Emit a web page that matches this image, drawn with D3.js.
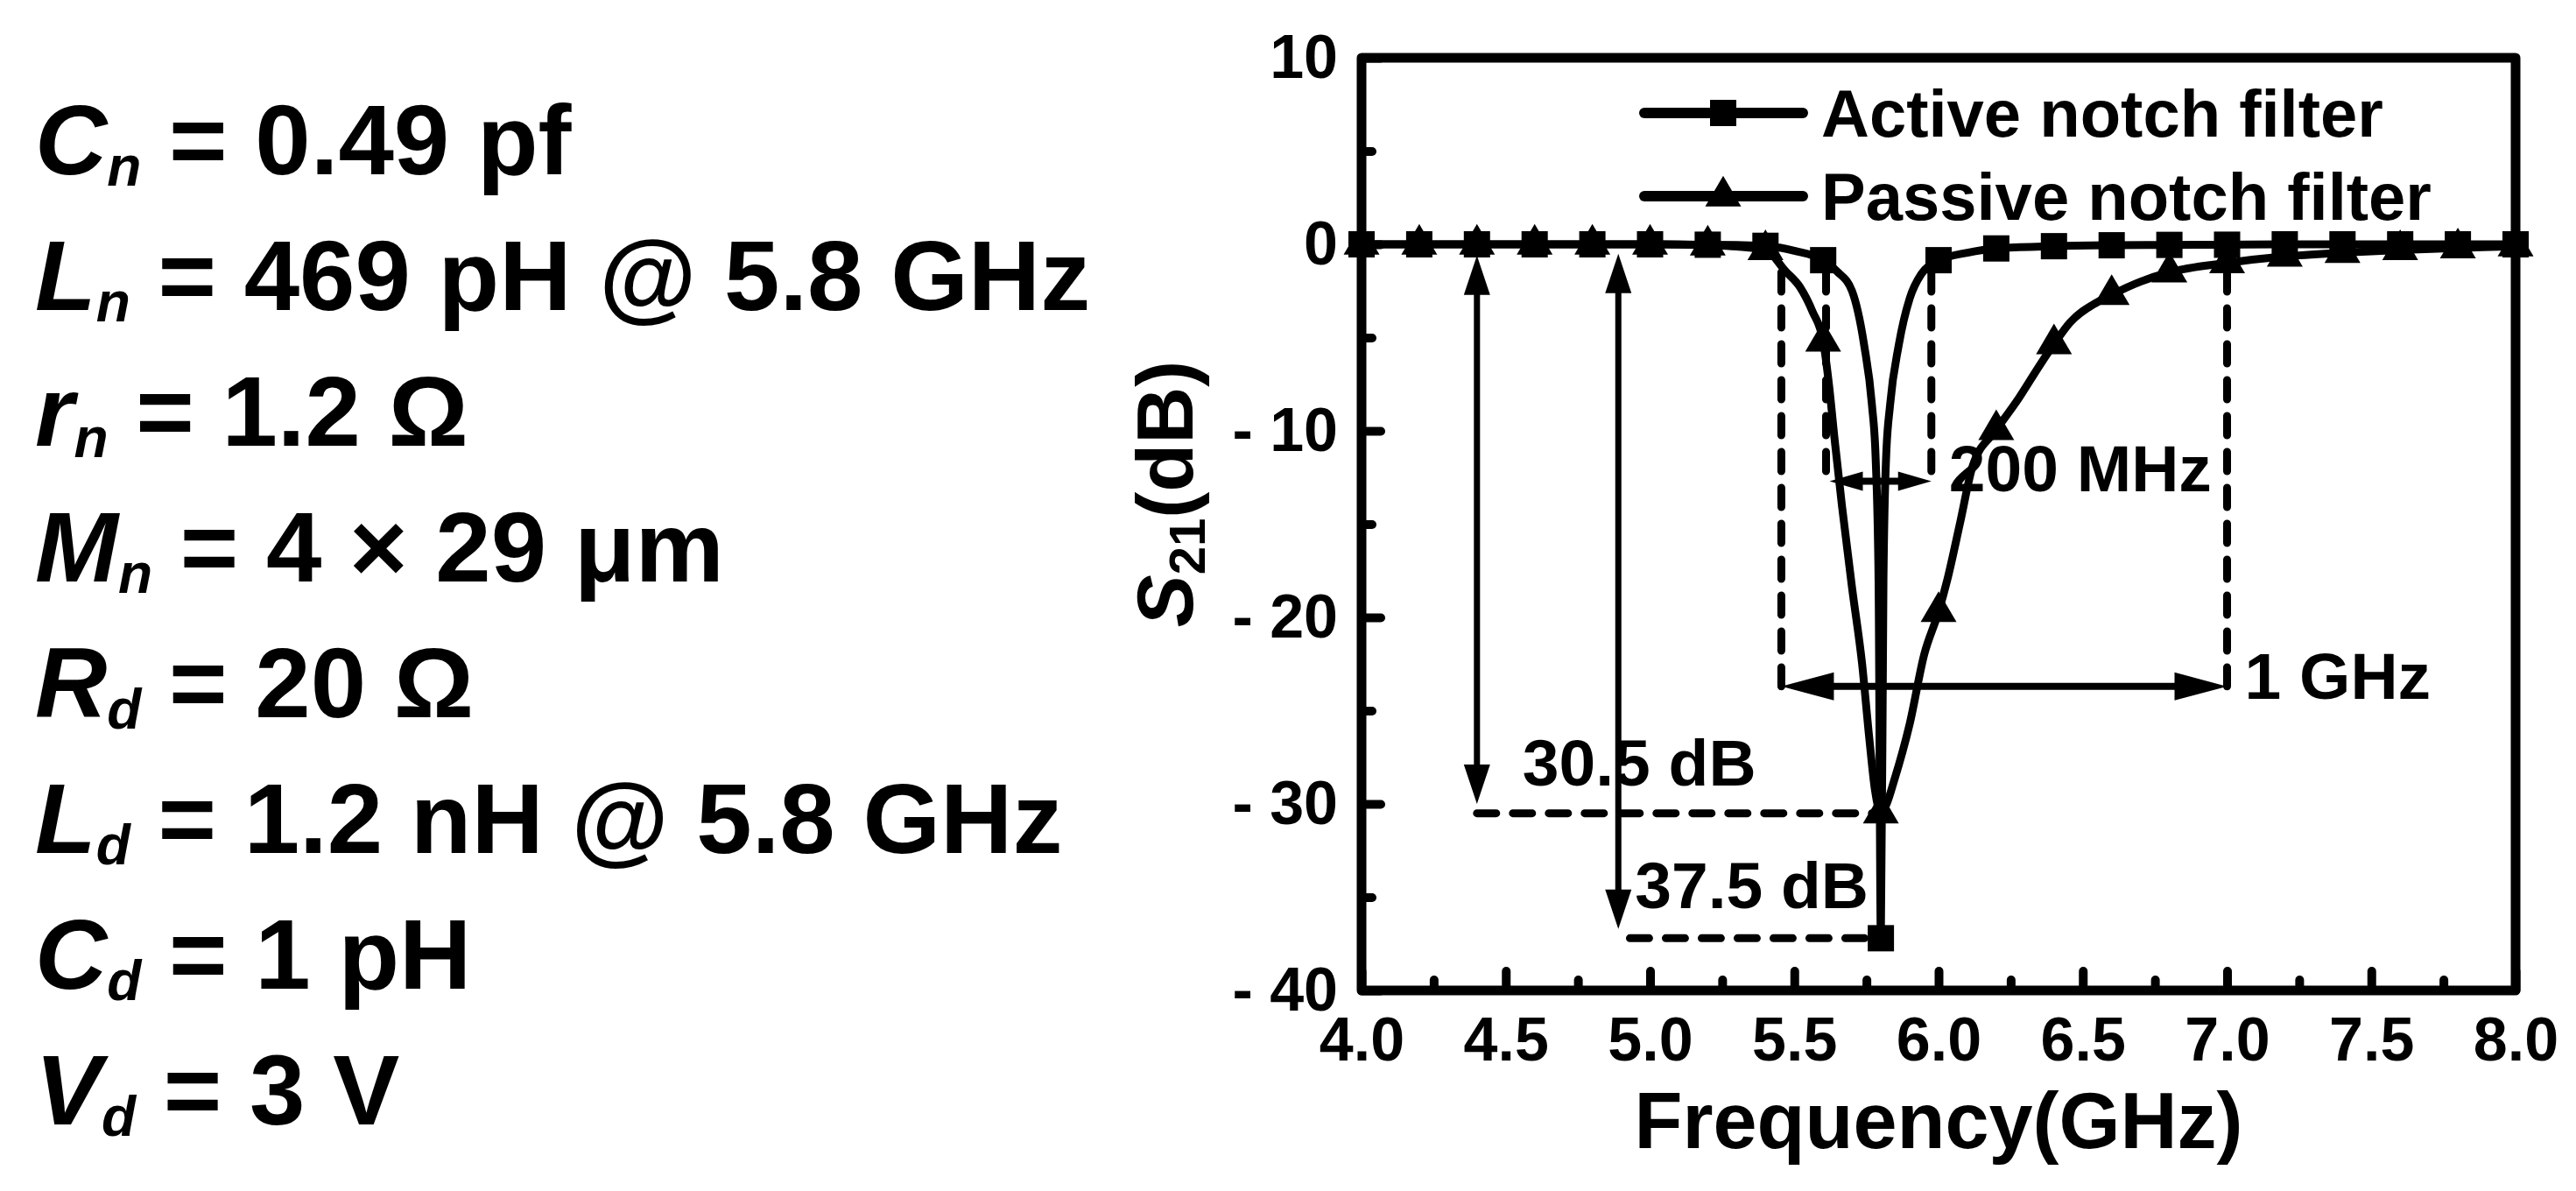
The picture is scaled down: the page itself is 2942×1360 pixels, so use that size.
<!DOCTYPE html>
<html>
<head>
<meta charset="utf-8">
<script src="https://cdn.jsdelivr.net/npm/d3@7"></script>
<style>
  body { margin: 0; background: #fff; }
  svg text { font-family: "Liberation Sans", Arial, sans-serif; font-weight: bold; fill: #000; white-space: pre; }
</style>
</head>
<body>
<script>
// circuit values listed on the left
var paramSymbols = ["C", "L", "r", "M", "R", "L", "C", "V"];
var paramSubs = ["n", "n", "n", "n", "d", "d", "d", "d"];
var paramValues = ["= 0.49 pf", "= 469 pH @ 5.8 GHz", "= 1.2 Ω", "= 4 × 29 μm", "= 20 Ω", "= 1.2 nH @ 5.8 GHz", "= 1 pH", "= 3 V"];

// S21 (GHz, dB)
var activeFreq = [4.0, 4.2, 4.4, 4.6, 4.8, 5.0, 5.2, 5.3, 5.4, 5.5, 5.6, 5.648, 5.7, 5.742, 5.769, 5.782, 5.792, 5.8,
    5.809, 5.818, 5.832, 5.862, 5.9, 5.94, 5.97, 6.0, 6.1, 6.2, 6.4, 6.6, 6.8, 7.0, 7.2, 7.4, 7.6, 7.8, 8.0];
var activeS21 = [0, 0, 0, 0, 0, 0, -0.02, -0.04, -0.08, -0.35, -0.85, -1.45, -2.5, -5.4, -8.6, -11.5, -18, -37.2,
    -18, -11.5, -8.6, -5.4, -2.9, -1.6, -1.1, -0.85, -0.45, -0.22, -0.1, -0.05, -0.03, -0.02, 0, 0, 0, 0, 0];

var passiveFreq = [4.0, 4.2, 4.4, 4.6, 4.8, 5.0, 5.2, 5.3, 5.4, 5.47, 5.52, 5.563, 5.6, 5.62, 5.64, 5.665, 5.7, 5.735,
    5.76, 5.78, 5.8, 5.82, 5.845, 5.9, 5.95, 6.0, 6.03, 6.075, 6.118, 6.2, 6.28, 6.35, 6.4, 6.455, 6.55, 6.6, 6.7,
    6.8, 7.0, 7.2, 7.4, 7.6, 7.8, 8.0];
var passiveS21 = [0, 0, 0, 0, 0, 0, -0.05, -0.12, -0.3, -1.45, -2.3, -3.6, -5.2, -7.5, -10.5, -14, -18.4, -22.5,
    -26.5, -29.3, -30.5, -30.0, -28.8, -25.7, -22, -19.7, -18, -14.9, -11.9, -9.95, -8.2, -6.5, -5.35, -4.2, -3.1, -2.7, -2.0,
    -1.5, -1.0, -0.65, -0.45, -0.3, -0.2, -0.1];

var seriesNames = ["Active notch filter", "Passive notch filter"];

var xTicks = [4.0, 4.5, 5.0, 5.5, 6.0, 6.5, 7.0, 7.5, 8.0];
var xMinorTicks = [4.25, 4.75, 5.25, 5.75, 6.25, 6.75, 7.25, 7.75];
var yTicks = [10, 0, -10, -20, -30, -40];
var yMinorTicks = [5, -5, -15, -25, -35];

// annotations, in GHz / dB
var dropArrows = [{f: 4.4, top: -0.6, bottom: -30.0}, {f: 4.89, top: -0.5, bottom: -36.7}];
var dropLevels = [{v: -30.5, f0: 4.4, f1: 5.78, label: "30.5 dB"}, {v: -37.2, f0: 4.93, f1: 5.79, label: "37.5 dB"}];
var bandwidths = [
    {f0: 5.61, f1: 5.975, top: -1.5, v: -12.7, label: "200 MHz", big: false},
    {f0: 5.455, f1: 7.0, top: -1.5, v: -23.7, label: "1 GHz", big: true}
];

var W = 2942, H = 1360;
var plot = {left: 1555, right: 2873, top: 66, bottom: 1131};

var svg = d3.select("body").append("svg")
    .attr("width", W)
    .attr("height", H);

var x = d3.scaleLinear().domain([4, 8]).range([plot.left, plot.right]);
var y = d3.scaleLinear().domain([-40, 10]).range([plot.bottom, plot.top]);

// left text block
var params = svg.append("g");
paramSymbols.forEach(function(sym, i) {
    var t = params.append("text")
        .attr("x", 40)
        .attr("y", 199 + i * 155)
        .attr("font-size", 114);
    t.append("tspan").attr("font-style", "italic").text(sym);
    t.append("tspan").attr("font-style", "italic").attr("font-size", 64).attr("dy", 13).text(paramSubs[i]);
    t.append("tspan").attr("dy", -13).text(" " + paramValues[i]);
});

// annotation lines go under the curves
var notes = svg.append("g");

function head(px, py, dir, len, half) {
    // filled arrow head with its tip at px,py
    var p;
    if (dir == "up") p = [[px, py], [px - half, py + len], [px + half, py + len]];
    if (dir == "down") p = [[px, py], [px - half, py - len], [px + half, py - len]];
    if (dir == "left") p = [[px, py], [px + len, py - half], [px + len, py + half]];
    if (dir == "right") p = [[px, py], [px - len, py - half], [px - len, py + half]];
    notes.append("path").attr("d", "M" + p.join("L") + "Z").attr("fill", "#000");
}

function dashed(x1, y1, x2, y2) {
    notes.append("line")
        .attr("x1", x1).attr("y1", y1).attr("x2", x2).attr("y2", y2)
        .attr("stroke", "#000")
        .attr("stroke-width", 9)
        .attr("stroke-linecap", "round")
        .attr("stroke-dasharray", "22,19");
}

dropLevels.forEach(function(d) {
    dashed(x(d.f0), y(d.v), x(d.f1), y(d.v));
});

dropArrows.forEach(function(d) {
    notes.append("line")
        .attr("x1", x(d.f)).attr("x2", x(d.f))
        .attr("y1", y(d.top) + 20).attr("y2", y(d.bottom) - 20)
        .attr("stroke", "#000").attr("stroke-width", 7);
    head(x(d.f), y(d.top), "up", 45, 15);
    head(x(d.f), y(d.bottom), "down", 45, 15);
});

notes.append("text").attr("x", x(dropArrows[0].f) + 52).attr("y", y(dropLevels[0].v) - 32)
    .attr("font-size", 75).text(dropLevels[0].label);
notes.append("text").attr("x", x(dropArrows[1].f) + 19).attr("y", y(dropLevels[1].v) - 34)
    .attr("font-size", 75).text(dropLevels[1].label);

bandwidths.forEach(function(d) {
    var len = d.big ? 60 : 38, half = d.big ? 16 : 11;
    dashed(x(d.f0), y(d.top), x(d.f0), y(d.v) + (d.big ? 0 : -8));
    dashed(x(d.f1), y(d.top), x(d.f1), y(d.v) + (d.big ? 0 : -8));
    notes.append("line")
        .attr("x1", x(d.f0) + 20).attr("x2", x(d.f1) - 20)
        .attr("y1", y(d.v)).attr("y2", y(d.v))
        .attr("stroke", "#000").attr("stroke-width", 8);
    head(x(d.f0) + (d.big ? 0 : 4), y(d.v), "left", len, half);
    head(x(d.f1), y(d.v), "right", len, half);
    notes.append("text")
        .attr("x", x(d.f1) + 20)
        .attr("y", y(d.v) + (d.big ? 14 : 11))
        .attr("font-size", 75)
        .text(d.label);
});

// the two S21 curves
var activeData = activeFreq.map(function(f, i) { return {f: f, v: activeS21[i]}; });
var passiveData = passiveFreq.map(function(f, i) { return {f: f, v: passiveS21[i]}; });

var line = d3.line()
    .x(function(d) { return x(d.f); })
    .y(function(d) { return y(d.v); })
    .curve(d3.curveMonotoneX);

[activeData, passiveData].forEach(function(data) {
    svg.append("path")
        .datum(data)
        .attr("d", line)
        .attr("fill", "none")
        .attr("stroke", "#000")
        .attr("stroke-width", 9)
        .attr("stroke-linejoin", "round");
});

// symbols sit every 0.2 GHz
function onGrid(d) { return Math.abs(d.f * 5 - Math.round(d.f * 5)) < 1e-6; }

var triW = 41, triH = 35;
function triPath(cx, cy) {
    return "M" + cx + "," + (cy - triH * 2 / 3) +
        "L" + (cx + triW / 2) + "," + (cy + triH / 3) +
        "L" + (cx - triW / 2) + "," + (cy + triH / 3) + "Z";
}

svg.append("g").selectAll("path")
    .data(passiveData.filter(onGrid))
    .enter().append("path")
    .attr("d", function(d) { return triPath(x(d.f), y(d.v)); })
    .attr("fill", "#000");

svg.append("g").selectAll("rect")
    .data(activeData.filter(onGrid))
    .enter().append("rect")
    .attr("x", function(d) { return x(d.f) - 15; })
    .attr("y", function(d) { return y(d.v) - 15; })
    .attr("width", 30)
    .attr("height", 30)
    .attr("fill", "#000");

// axes, ticks point inward
function styleAxis(g, size) {
    g.select(".domain").remove();
    g.selectAll(".tick line")
        .attr("stroke", "#000")
        .attr("stroke-width", 10)
        .attr("stroke-linecap", "round");
    g.selectAll(".tick text").attr("font-size", size).attr("fill", "#000");
}

svg.append("g")
    .attr("transform", "translate(0," + plot.bottom + ")")
    .call(d3.axisBottom(x).tickValues(xTicks).tickSize(-22).tickPadding(30).tickFormat(d3.format(".1f")))
    .call(styleAxis, 70);
svg.append("g")
    .attr("transform", "translate(0," + plot.bottom + ")")
    .call(d3.axisBottom(x).tickValues(xMinorTicks).tickSize(-12).tickFormat(""))
    .call(styleAxis, 70);

svg.append("g")
    .attr("transform", "translate(" + plot.left + ",0)")
    .call(d3.axisLeft(y).tickValues(yTicks).tickSize(-22).tickPadding(27)
        .tickFormat(function(d) { return d < 0 ? "- " + Math.abs(d) : d; }))
    .call(styleAxis, 70);
svg.append("g")
    .attr("transform", "translate(" + plot.left + ",0)")
    .call(d3.axisLeft(y).tickValues(yMinorTicks).tickSize(-12).tickFormat(""))
    .call(styleAxis, 70);

// frame
svg.append("rect")
    .attr("x", plot.left).attr("y", plot.top)
    .attr("width", plot.right - plot.left).attr("height", plot.bottom - plot.top)
    .attr("fill", "none")
    .attr("stroke", "#000")
    .attr("stroke-width", 11)
    .attr("stroke-linejoin", "round");

// axis titles
svg.append("text")
    .attr("x", (plot.left + plot.right) / 2)
    .attr("y", 1311)
    .attr("text-anchor", "middle")
    .attr("font-size", 90)
    .text("Frequency(GHz)");

var yt = svg.append("text")
    .attr("transform", "translate(1362,564) rotate(-90)")
    .attr("text-anchor", "middle")
    .attr("font-size", 90);
yt.append("tspan").attr("font-style", "italic").text("S");
yt.append("tspan").attr("font-size", 58).attr("dy", 14).text("21");
yt.append("tspan").attr("dy", -14).text("(dB)");

// legend
var legend = svg.append("g");
seriesNames.forEach(function(name, i) {
    var ly = 129 + i * 95;
    legend.append("line")
        .attr("x1", 1878).attr("x2", 2059)
        .attr("y1", ly).attr("y2", ly)
        .attr("stroke", "#000")
        .attr("stroke-width", 12)
        .attr("stroke-linecap", "round");
    if (i == 0) {
        legend.append("rect").attr("x", 1968 - 15).attr("y", ly - 15)
            .attr("width", 30).attr("height", 30).attr("fill", "#000");
    } else {
        legend.append("path").attr("d", triPath(1968, ly)).attr("fill", "#000");
    }
    legend.append("text")
        .attr("x", 2080)
        .attr("y", ly + 27)
        .attr("font-size", 76)
        .text(name);
});
</script>
</body>
</html>
